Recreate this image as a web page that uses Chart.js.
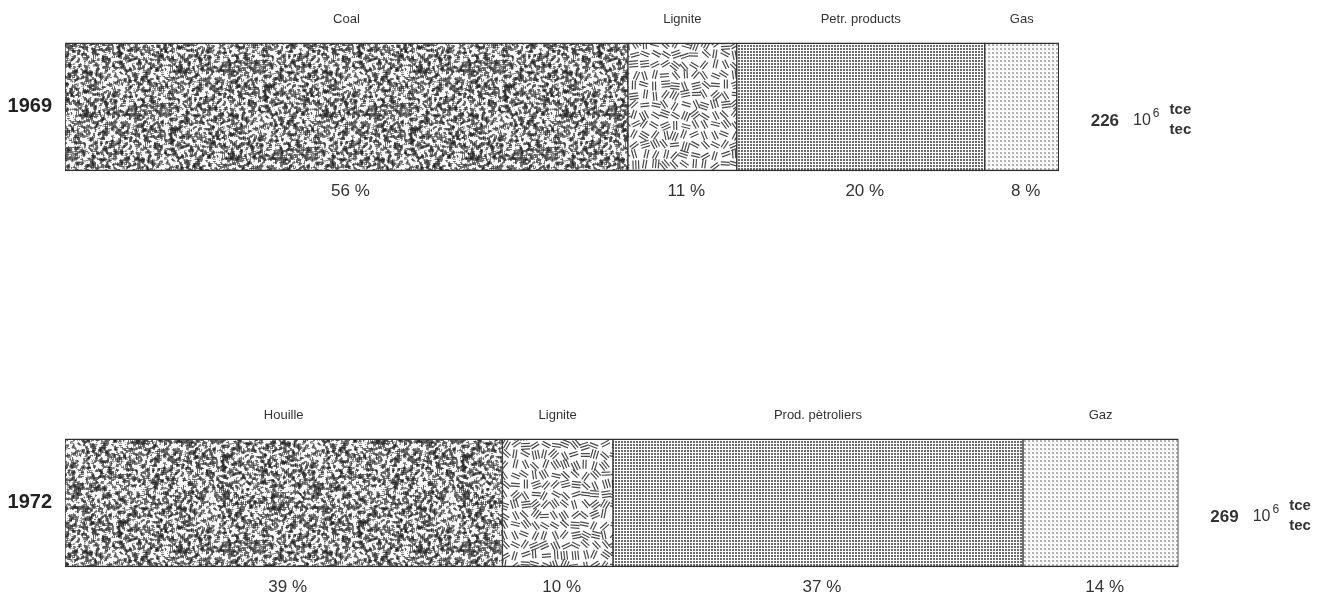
<!DOCTYPE html>
<html>
<head>
<meta charset="utf-8">
<script src="https://cdn.jsdelivr.net/npm/chart.js@4"></script>
<style>
  body { margin: 0; background: #fff; }
  #wrap { width: 1325px; height: 594px; }
</style>
</head>
<body>
<div id="wrap"><canvas id="energyChart"></canvas></div>
<script>
const years = [1969, 1972];
const coal = [135.5, 105.3];
const lignite = [26.2, 26.6];
const petroleum = [59.7, 98.7];
const gas = [17.8, 37.4];
const segNames = [
    ['Coal', 'Lignite', 'Petr. products', 'Gas'],
    ['Houille', 'Lignite', 'Prod. pètroliers', 'Gaz']
];
const percents = [
    [56, 11, 20, 8],
    [39, 10, 37, 14]
];
const totals = [226, 269];

// petit générateur pseudo-aléatoire pour les trames (pas pour les données)
let seed = 12345;
function rnd() {
    seed = (seed * 1103515245 + 12345) % 2147483648;
    return seed / 2147483648;
}

function makeTile(size, draw) {
    const c = document.createElement('canvas');
    c.width = size; c.height = size;
    const g = c.getContext('2d');
    g.fillStyle = '#fff';
    g.fillRect(0, 0, size, size);
    draw(g, size);
    return g.createPattern(c, 'repeat');
}

// trame houille : grain irrégulier (bruit lissé puis seuillé)
const coalPattern = makeTile(240, function (g, s) {
    const noise = new Float32Array(s * s);
    for (let i = 0; i < s * s; i++) noise[i] = rnd();
    const img = g.getImageData(0, 0, s, s);
    for (let y = 0; y < s; y++) {
        for (let x = 0; x < s; x++) {
            let sum = 0;
            for (let dy = -1; dy <= 1; dy++) {
                for (let dx = -1; dx <= 1; dx++) {
                    sum += noise[((y + dy + s) % s) * s + ((x + dx + s) % s)];
                }
            }
            const v = sum / 9;
            let c = 248;
            if (v < 0.5) c = 40 + Math.max(0, (v - 0.3) / 0.2) * 90;
            else if (v < 0.53) c = 175;
            const k = (y * s + x) * 4;
            img.data[k] = img.data[k + 1] = img.data[k + 2] = c;
            img.data[k + 3] = 255;
        }
    }
    g.putImageData(img, 0, 0);
});

// trame lignite : petits traits parallèles orientés au hasard
const lignitePattern = makeTile(200, function (g, s) {
    g.strokeStyle = '#474747';
    g.lineWidth = 1.2;
    const cell = 10;
    for (let cx = 0; cx < s; cx += cell) {
        for (let cy = 0; cy < s; cy += cell) {
            const x = cx + cell / 2 + (rnd() - 0.5) * 3;
            const y = cy + cell / 2 + (rnd() - 0.5) * 3;
            const a = rnd() * Math.PI;
            const n = rnd() < 0.3 ? 3 : 2;
            const len = 4.5, gap = 2.8;
            const dx = Math.cos(a), dy = Math.sin(a);
            for (let j = 0; j < n; j++) {
                const off = (j - (n - 1) / 2) * gap;
                const px = x - dy * off, py = y + dx * off;
                for (const ox of [-s, 0, s]) {
                    for (const oy of [-s, 0, s]) {
                        g.beginPath();
                        g.moveTo(px - dx * len + ox, py - dy * len + oy);
                        g.lineTo(px + dx * len + ox, py + dy * len + oy);
                        g.stroke();
                    }
                }
            }
        }
    }
});

// trame produits pétroliers : points serrés
const petrolPattern = makeTile(3, function (g) {
    g.fillStyle = '#6a6a6a';
    g.fillRect(0, 0, 2, 2);
});

// trame gaz : points fins clairs
const gasPattern = makeTile(4, function (g) {
    g.fillStyle = '#b0b0b0';
    g.fillRect(0, 0, 2, 2);
    g.fillStyle = '#e4e4e4';
    g.fillRect(2, 2, 1, 1);
});

function series(values) {
    return values.map((v, i) => ({ x: v, y: years[i] }));
}

const fontFamily = '"Liberation Sans", Arial, Helvetica, sans-serif';

const segmentLabels = {
    id: 'segmentLabels',
    afterDatasetsDraw(chart) {
        const ctx = chart.ctx;
        ctx.save();
        ctx.fillStyle = '#333';
        ctx.textBaseline = 'middle';
        ctx.textAlign = 'center';
        chart.data.datasets.forEach((ds, di) => {
            chart.getDatasetMeta(di).data.forEach((bar, i) => {
                const cx = (bar.x + bar.base) / 2;
                const top = bar.y - bar.height / 2;
                const bottom = bar.y + bar.height / 2;
                ctx.font = '13px ' + fontFamily;
                ctx.fillText(segNames[i][di], cx, top - 23);
                ctx.font = '17px ' + fontFamily;
                ctx.fillText(percents[i][di] + ' %', cx + 4, bottom + 20);
            });
        });
        // total à droite de chaque barre
        const last = chart.getDatasetMeta(chart.data.datasets.length - 1);
        ctx.textAlign = 'left';
        last.data.forEach((bar, i) => {
            let x = bar.x + 32;
            const y = bar.y;
            ctx.font = 'bold 17px ' + fontFamily;
            ctx.fillText(String(totals[i]), x, y + 14);
            x += ctx.measureText(String(totals[i])).width + 14;
            ctx.font = '16px ' + fontFamily;
            ctx.fillText('10', x, y + 14);
            x += ctx.measureText('10').width + 2;
            ctx.font = '12px ' + fontFamily;
            ctx.fillText('6', x, y + 7);
            x += ctx.measureText('6').width + 10;
            ctx.font = 'bold 15px ' + fontFamily;
            ctx.fillText('tce', x, y + 3);
            ctx.fillText('tec', x, y + 23);
        });
        ctx.restore();
    }
};

const border = { top: 1.5, bottom: 1.5, left: 1, right: 1 };

new Chart(document.getElementById('energyChart'), {
    type: 'bar',
    data: {
        datasets: [
            { label: 'Coal', data: series(coal), backgroundColor: coalPattern },
            { label: 'Lignite', data: series(lignite), backgroundColor: lignitePattern },
            { label: 'Petr. products', data: series(petroleum), backgroundColor: petrolPattern },
            { label: 'Gas', data: series(gas), backgroundColor: gasPattern }
        ].map(d => Object.assign(d, {
            borderColor: '#2e2e2e',
            borderWidth: border,
            borderSkipped: false,
            barThickness: 128
        }))
    },
    options: {
        indexAxis: 'y',
        responsive: true,
        maintainAspectRatio: false,
        animation: false,
        layout: { padding: 0 },
        scales: {
            x: {
                type: 'linear',
                stacked: true,
                display: false,
                min: 0,
                max: 303.3
            },
            y: {
                type: 'linear',
                stacked: true,
                reverse: true,
                offset: false,
                min: 1968.19,
                max: 1972.69,
                grid: { display: false, drawTicks: false },
                border: { display: false },
                afterBuildTicks: (scale) => {
                    scale.ticks = years.map(v => ({ value: v }));
                },
                afterFit: (scale) => {
                    scale.width = 65;
                    scale.paddingTop = 0;
                    scale.paddingBottom = 0;
                },
                ticks: {
                    padding: 13,
                    color: '#222',
                    font: { family: fontFamily, size: 20, weight: 'bold' },
                    callback: (v) => String(v)
                }
            }
        },
        plugins: {
            legend: { display: false },
            tooltip: { enabled: false }
        }
    },
    plugins: [segmentLabels]
});
</script>
</body>
</html>
